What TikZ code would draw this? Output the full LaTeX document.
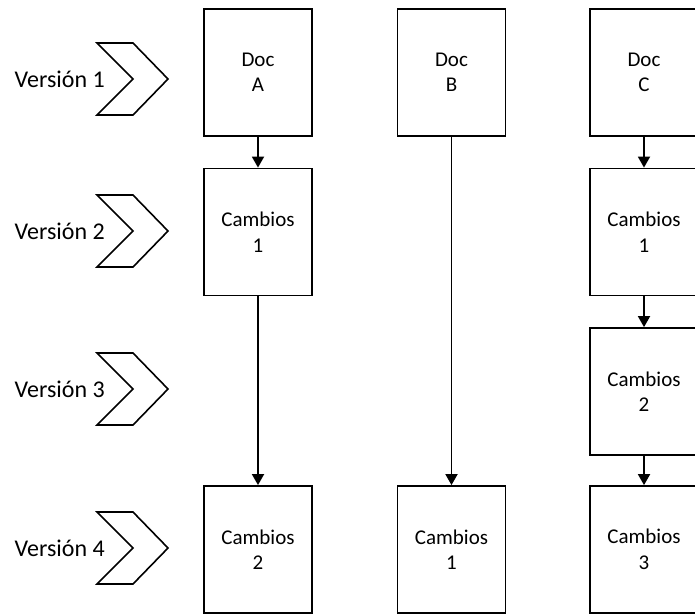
\documentclass[tikz,border=0pt]{standalone}
\usepackage{fontspec}
\setmainfont{Carlito}
\usetikzlibrary{arrows.meta}

\tikzset{
	box/.style={draw, line width=1.8pt, minimum width=108pt, minimum height=127pt,
		inner sep=0pt, align=center, font=\fontsize{21}{25.5}\selectfont},
	arr/.style={line width=1.8pt, -{Triangle[width=12pt,length=11pt]}},
	chev/.style={line width=1.6pt, line join=miter},
	lbl/.style={anchor=east, inner sep=0pt, font=\fontsize{24}{28}\selectfont}
}

\begin{document}
\begin{tikzpicture}[x=1pt,y=-1pt]
	\clip (0,0) rectangle (695,614);

	\node[box] (a1) at (258,72.5) {Doc\\A};
	\node[box] (a2) at (258,232) {Cambios\\1};
	\node[box] (a4) at (258,549.5) {Cambios\\2};

	\node[box] (b1) at (451.5,72.5) {Doc\\B};
	\node[box] (b4) at (451.5,549.5) {Cambios\\1};

	\node[box] (c1) at (644,72.5) {Doc\\C};
	\node[box] (c2) at (644,232) {Cambios\\1};
	\node[box] (c3) at (644,391.5) {Cambios\\2};
	\node[box] (c4) at (644,549.5) {Cambios\\3};

	\foreach \v / \y in {1/79, 2/231, 3/389, 4/548}
	{
		\node[lbl] (v\v) at (105,\y) {Versión \v};
		\draw[chev] (97,\y-36) -- ++(36,0) -- ++(35,36) -- ++(-35,36)
			-- ++(-36,0) -- ++(36,-36) -- cycle;
	};

	\foreach \i / \j in {
	a1/a2,
	a2/a4,
	b1/b4,
	c1/c2,
	c2/c3,
	c3/c4}
	{
		\draw[arr] (\i) -- (\j);
	};
\end{tikzpicture}
\end{document}
